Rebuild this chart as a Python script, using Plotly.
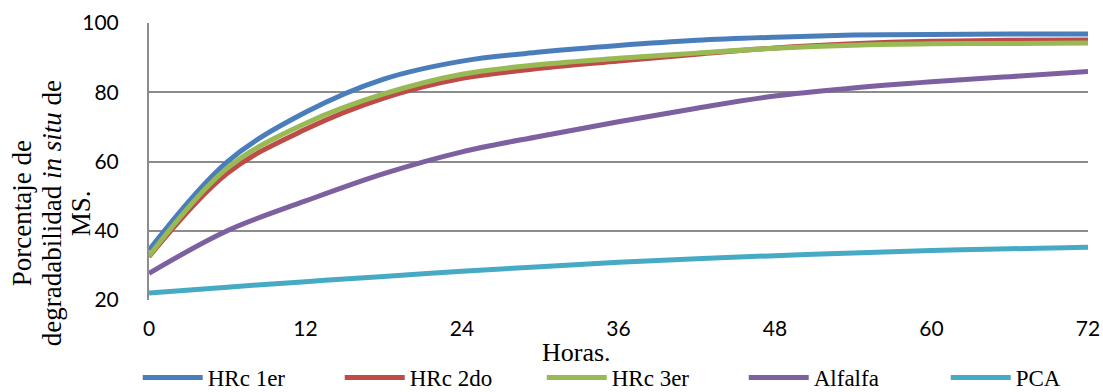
import plotly.graph_objects as go

hours = [0, 6, 12, 18, 24, 30, 36, 42, 48, 54, 60, 66, 72]
hrc_1er = [34.4, 59.9, 74.2, 83.8, 89.0, 91.6, 93.5, 95.0, 95.9, 96.5, 96.7, 96.8, 96.8]
hrc_2do = [32.5, 56.6, 69.3, 78.3, 84.0, 86.9, 89.0, 91.0, 92.8, 94.0, 94.7, 95.0, 95.1]
hrc_3er = [32.7, 58.1, 71.0, 79.5, 85.2, 88.0, 89.8, 91.3, 92.7, 93.6, 94.0, 94.1, 94.2]
alfalfa = [27.7, 40.0, 48.6, 56.5, 62.8, 67.3, 71.5, 75.4, 78.9, 81.2, 83.0, 84.5, 86.0]
pca = [22.0, 23.7, 25.3, 26.8, 28.3, 29.6, 30.9, 31.9, 32.8, 33.6, 34.3, 34.8, 35.2]

series_names = ["HRc 1er", "HRc 2do", "HRc 3er", "Alfalfa", "PCA"]
series_values = [hrc_1er, hrc_2do, hrc_3er, alfalfa, pca]
colors = ["#4A7EBB", "#BE4B48", "#98B954", "#7D60A0", "#46AAC5"]

x_ticks = [0, 12, 24, 36, 48, 60, 72]
y_ticks = [20, 40, 60, 80, 100]

y_title_lines = ["Porcentaje de", "degradabilidad <i>in situ</i> de", "MS."]
x_title = "Horas."

fig = go.Figure()
for name, vals, col in zip(series_names, series_values, colors):
    fig.add_trace(go.Scatter(
        x=hours, y=vals, name=name, mode="lines",
        line=dict(color=col, width=5, shape="spline", smoothing=1.0),
    ))

# y-title lines placed individually (paper x for centers ~22, 52, 81 px)
plot_left, plot_w = 149, 939
line_centers_px = [22, 52, 81]
annotations = [
    dict(text=x_title, x=0.455, y=-0.19, xref="paper", yref="paper",
         xanchor="center", yanchor="middle", showarrow=False,
         font=dict(family="Liberation Serif", size=26, color="black")),
]
for txt, cx in zip(y_title_lines, line_centers_px):
    annotations.append(dict(
        text=txt, x=(cx - plot_left) / plot_w, y=0.313, xref="paper", yref="paper",
        textangle=-90, xanchor="center", yanchor="middle", showarrow=False,
        font=dict(family="Liberation Serif", size=27, color="black"),
    ))

fig.update_layout(
    width=1103, height=392,
    margin=dict(l=149, r=15, t=23, b=92, autoexpand=False),
    plot_bgcolor="white", paper_bgcolor="white",
    font=dict(family="Lato", size=21, color="black"),
    showlegend=True,
    legend=dict(
        orientation="h", x=-0.012, xanchor="left", y=-0.28, yanchor="middle",
        font=dict(family="Liberation Serif", size=23, color="black"),
        entrywidth=127, entrywidthmode="pixels",
        itemwidth=60, tracegroupgap=0,
    ),
    xaxis=dict(
        range=[0, 72], tickvals=x_ticks, ticktext=[str(v) for v in x_ticks],
        showgrid=False, zeroline=False, showline=False, ticks="",
        ticklabelstandoff=14,
        tickfont=dict(family="Lato", size=21),
    ),
    yaxis=dict(
        range=[20, 100], tickvals=y_ticks, ticktext=[str(v) for v in y_ticks],
        showgrid=True, gridcolor="#8C8C8C", gridwidth=2,
        zeroline=False, showline=True, linecolor="#8C8C8C", linewidth=2,
        ticks="", ticklabelstandoff=24,
        tickfont=dict(family="Lato", size=21),
    ),
    annotations=annotations,
)

fig.write_html("out.html")
